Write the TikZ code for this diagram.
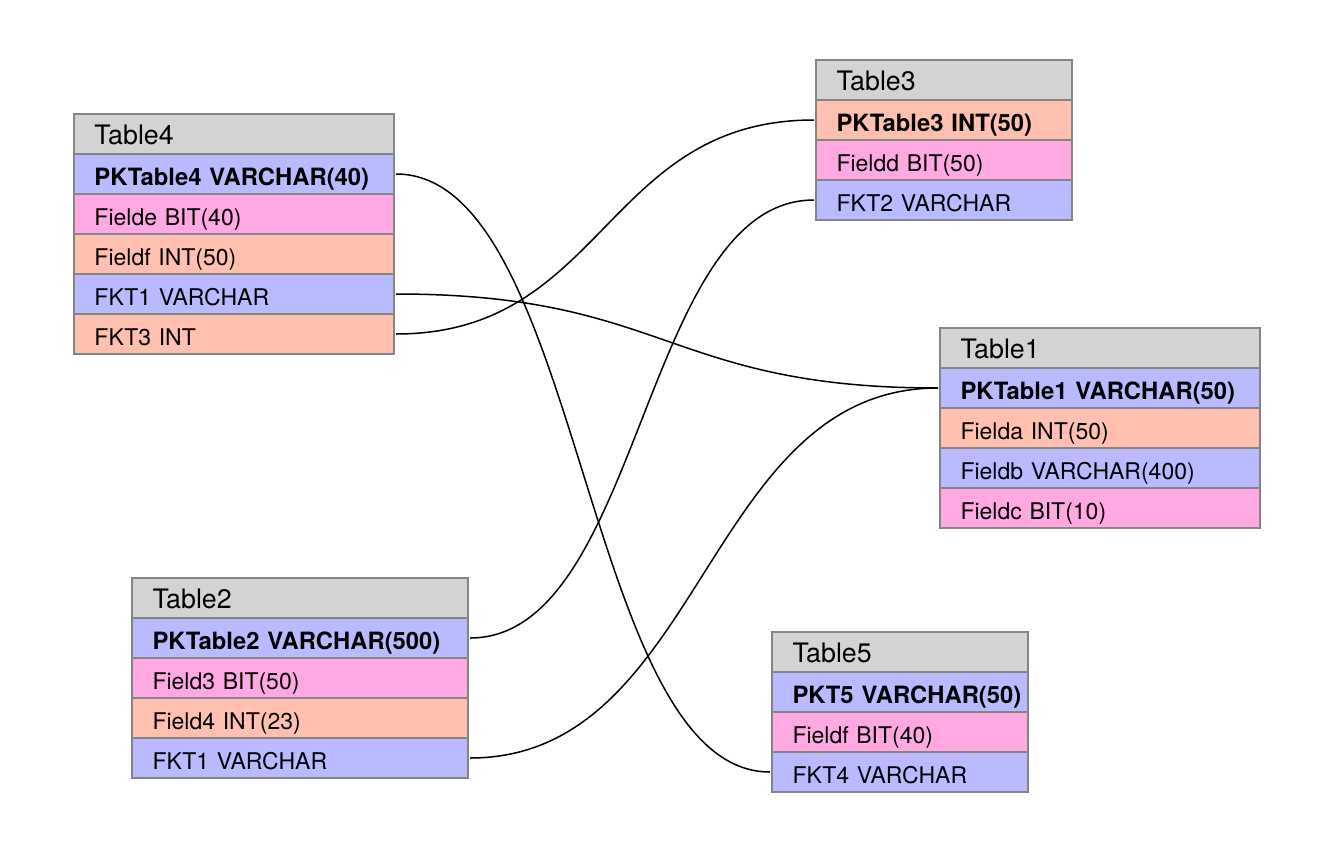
\documentclass[tikz,border=0pt]{standalone}
\usepackage{fontspec}
\setmainfont{TeX Gyre Heros}
\definecolor{hdrgray}{HTML}{D3D3D3}
\definecolor{rowblue}{HTML}{B9BAFF}
\definecolor{rowpink}{HTML}{FFA8E2}
\definecolor{rowsalmon}{HTML}{FFC0B0}
\definecolor{edgegray}{HTML}{858585}
\tikzset{
  cell/.style={draw=edgegray, line width=1.6pt, rectangle, inner ysep=0pt, inner xsep=0pt, outer sep=0pt,
    minimum height=40pt, align=left, anchor=north west, text=black,
    execute at begin node={\hspace*{20.5pt}}},
  hdr/.style={cell, fill=hdrgray, font=\fontsize{26.8}{30}\selectfont, text height=24pt, text depth=4pt},
  fld/.style={cell, font=\fontsize{23}{26}\selectfont, text height=26pt, text depth=4pt},
  pkf/.style={fld, font=\fontsize{23.8}{26}\selectfont\bfseries},
  blu/.style={fill=rowblue}, pnk/.style={fill=rowpink}, sal/.style={fill=rowsalmon},
  wA/.style={text width=320pt}, wB/.style={text width=256pt}, wC/.style={text width=336pt},
  link/.style={draw=black, line width=1.5pt}
}
\begin{document}
\begin{tikzpicture}[x=1pt,y=-1pt]
\useasboundingbox[fill=white] (0,0) rectangle (1320,852);
% Table4
\node[hdr,wA] (t4h) at (74,114) {Table4};
\node[pkf,wA,blu] (t4pk) at (t4h.south west) {PKTable4 VARCHAR(40)};
\node[fld,wA,pnk] (t4fe) at (t4pk.south west) {Fielde BIT(40)};
\node[fld,wA,sal] (t4ff) at (t4fe.south west) {Fieldf INT(50)};
\node[fld,wA,blu] (t4k1) at (t4ff.south west) {FKT1 VARCHAR};
\node[fld,wA,sal] (t4k3) at (t4k1.south west) {FKT3 INT};
% Table3
\node[hdr,wB] (t3h) at (816,60) {Table3};
\node[pkf,wB,sal] (t3pk) at (t3h.south west) {PKTable3 INT(50)};
\node[fld,wB,pnk] (t3fd) at (t3pk.south west) {Fieldd BIT(50)};
\node[fld,wB,blu] (t3k2) at (t3fd.south west) {FKT2 VARCHAR};
% Table1
\node[hdr,wA] (t1h) at (940,328) {Table1};
\node[pkf,wA,blu] (t1pk) at (t1h.south west) {PKTable1 VARCHAR(50)};
\node[fld,wA,sal] (t1fa) at (t1pk.south west) {Fielda INT(50)};
\node[fld,wA,blu] (t1fb) at (t1fa.south west) {Fieldb VARCHAR(400)};
\node[fld,wA,pnk] (t1fc) at (t1fb.south west) {Fieldc BIT(10)};
% Table2
\node[hdr,wC] (t2h) at (132,578) {Table2};
\node[pkf,wC,blu] (t2pk) at (t2h.south west) {PKTable2 VARCHAR(500)};
\node[fld,wC,pnk] (t2f3) at (t2pk.south west) {Field3 BIT(50)};
\node[fld,wC,sal] (t2f4) at (t2f3.south west) {Field4 INT(23)};
\node[fld,wC,blu] (t2k1) at (t2f4.south west) {FKT1 VARCHAR};
% Table5
\node[hdr,wB] (t5h) at (772,632) {Table5};
\node[pkf,wB,blu] (t5pk) at (t5h.south west) {PKT5 VARCHAR(50)};
\node[fld,wB,pnk] (t5ff) at (t5pk.south west) {Fieldf BIT(40)};
\node[fld,wB,blu] (t5k4) at (t5ff.south west) {FKT4 VARCHAR};
% connectors
\draw[link] ([xshift=2pt]t4pk.east) .. controls +(187,0) and +(-187,0) .. ([xshift=-2pt]t5k4.west);
\draw[link] ([xshift=2pt]t4k1.east) .. controls +(271,0) and +(-271,0) .. ([xshift=-2pt]t1pk.west);
\draw[link] ([xshift=2pt]t4k3.east) .. controls +(209,0) and +(-209,0) .. ([xshift=-2pt]t3pk.west);
\draw[link] ([xshift=2pt]t2pk.east) .. controls +(172,0) and +(-172,0) .. ([xshift=-2pt]t3k2.west);
\draw[link] ([xshift=2pt]t2k1.east) .. controls +(234,0) and +(-234,0) .. ([xshift=-2pt]t1pk.west);
\end{tikzpicture}
\end{document}
